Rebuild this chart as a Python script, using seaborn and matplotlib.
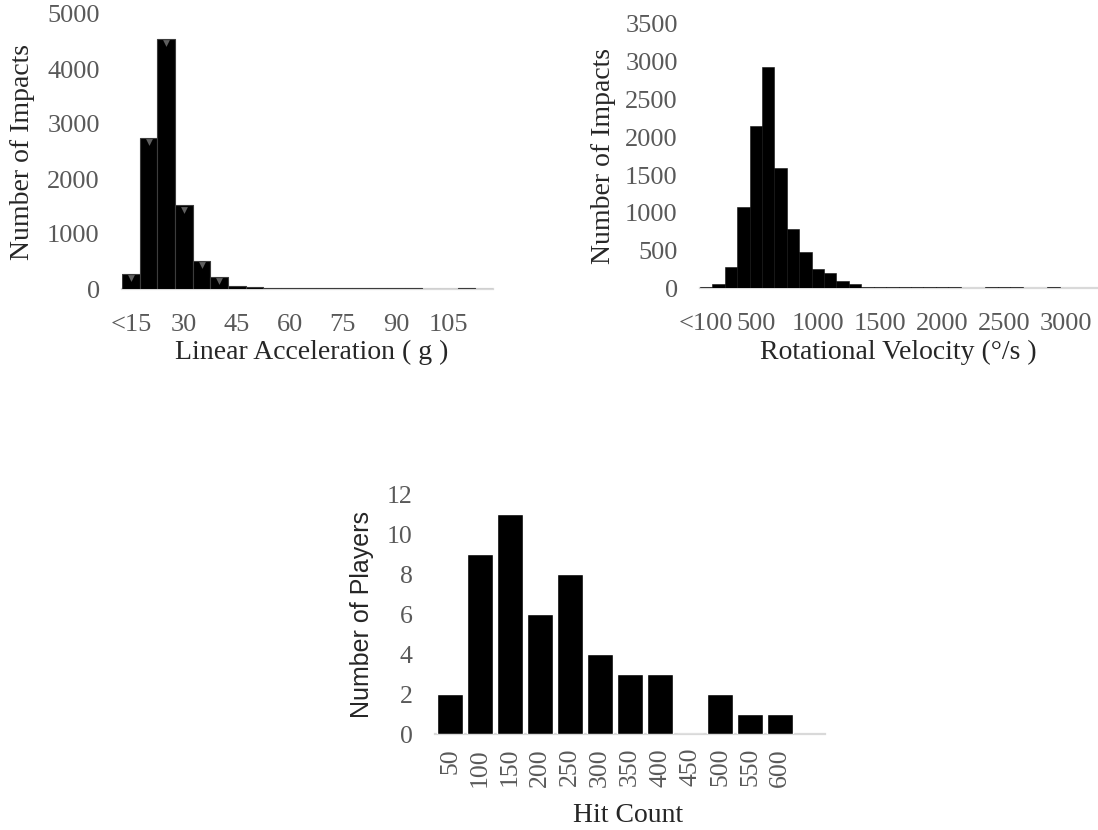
import matplotlib
matplotlib.use("Agg")
import matplotlib.pyplot as plt
from matplotlib.transforms import offset_copy
import seaborn as sns

# linear acceleration histogram (bins of 5 g)
accel_bins = ["<15"] + [str(v) for v in range(20, 120, 5)]
accel_counts = [270, 2740, 4540, 1520, 515, 215, 50, 28, 26, 25, 25, 24, 24, 23, 23, 22, 22, 0, 0, 25, 0]
accel_tick_idx = [0, 3, 6, 9, 12, 15, 18]

# rotational velocity histogram (bins of 100 deg/s)
rot_bins = ["<100"] + [str(v) for v in range(200, 3300, 100)]
rot_counts = [25, 60, 290, 1075, 2150, 2935, 1590, 785, 480, 255, 210, 103, 60,
              25, 22, 22, 22, 22, 22, 22, 22, 0, 0, 22, 22, 22, 0, 0, 22, 0, 0, 0]
rot_tick_idx = [0, 4, 9, 14, 19, 24, 29]

# hit count per player
hit_bins = ["50", "100", "150", "200", "250", "300", "350", "400", "450", "500", "550", "600"]
hit_players = [2, 9, 11, 6, 8, 4, 3, 3, 0, 2, 1, 1]

sns.set_style("white")
plt.rcParams["font.family"] = ["Liberation Serif", "DejaVu Serif"]

W, H = 1098, 830
fig = plt.figure(figsize=(W / 100, H / 100), dpi=100)


def px_axes(left, top, right, bottom):
    return fig.add_axes([left / W, 1 - bottom / H, (right - left) / W, (bottom - top) / H])


tick_gray = "#595959"


def style_axis(ax, xfs, yfs):
    sns.despine(ax=ax, left=True)
    ax.spines["bottom"].set_color("#d9d9d9")
    ax.spines["bottom"].set_linewidth(1.6)
    ax.spines["bottom"].set_zorder(0.5)
    ax.tick_params(axis="both", length=0, colors=tick_gray)
    ax.tick_params(axis="y", pad=16, labelsize=yfs)
    ax.tick_params(axis="x", labelsize=xfs)


# ---- top left
ax1 = px_axes(122, 14, 493, 289)
sns.barplot(x=accel_bins, y=accel_counts, ax=ax1, color="black", saturation=1,
            width=1.0, edgecolor="#3c3c3c", linewidth=0.8)
tri_idx = [i for i, v in enumerate(accel_counts) if v > 150]
trans = offset_copy(ax1.transData, fig=fig, y=-3, units="points")
ax1.scatter(tri_idx, [accel_counts[i] for i in tri_idx], marker="v", s=24,
            color="#5f5f5f", linewidths=0, transform=trans, zorder=3)
ax1.set_xlim(-0.5, len(accel_bins) - 0.5)
ax1.set_ylim(0, 5000)
ax1.set_yticks(range(0, 5001, 1000))
ax1.set_xticks(accel_tick_idx)
ax1.set_xticklabels([accel_bins[i] for i in accel_tick_idx])
style_axis(ax1, 19, 19)
ax1.tick_params(axis="x", pad=18)
ax1.set_xlabel("Linear Acceleration ( g )", fontsize=20, va="center")
ax1.xaxis.set_label_coords(0.51, -0.23)
ax1.set_ylabel("Number of Impacts", fontsize=20, va="center")
ax1.yaxis.set_label_coords(-0.267, 0.5)

# ---- top right
ax2 = px_axes(700, 24, 1097, 288.5)
sns.barplot(x=rot_bins, y=rot_counts, ax=ax2, color="black", saturation=1,
            width=1.0, edgecolor="#111111", linewidth=0.4)
ax2.set_xlim(-0.5, len(rot_bins) - 0.5)
ax2.set_ylim(0, 3500)
ax2.set_yticks(range(0, 3501, 500))
ax2.set_xticks(rot_tick_idx)
ax2.set_xticklabels([rot_bins[i] for i in rot_tick_idx])
style_axis(ax2, 19, 19)
ax2.tick_params(axis="x", pad=18)
ax2.set_xlabel("Rotational Velocity (°/s )", fontsize=20, va="center")
ax2.xaxis.set_label_coords(0.5, -0.24)
ax2.set_ylabel("Number of Impacts", fontsize=20, va="center")
ax2.yaxis.set_label_coords(-0.244, 0.5)

# ---- bottom
ax3 = px_axes(435, 494, 825, 734)
sns.barplot(x=hit_bins, y=hit_players, ax=ax3, color="black", saturation=1,
            width=0.88)
ax3.set_xlim(-0.5, len(hit_bins) + 0.5)
ax3.set_ylim(0, 12)
ax3.set_yticks(range(0, 13, 2))
style_axis(ax3, 18.5, 18.5)
ax3.tick_params(axis="x", pad=10, labelrotation=90)
ax3.set_xlabel("Hit Count", fontsize=20, va="baseline")
ax3.xaxis.set_label_coords(0.496, -0.365)
ax3.set_ylabel("Number of Players", fontsize=18, va="center",
               family=["Liberation Sans", "DejaVu Sans"])
ax3.yaxis.set_label_coords(-0.187, 0.5)

fig.savefig("out.png", dpi=100)
